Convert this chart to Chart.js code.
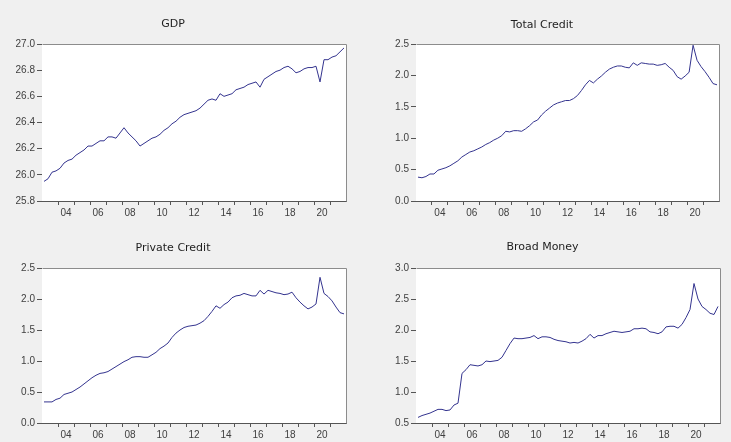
<!DOCTYPE html>
<html>
<head>
<meta charset="utf-8">
<script src="https://cdn.jsdelivr.net/npm/chart.js@4.4.1/dist/chart.umd.min.js"></script>
<style>
  html, body { margin: 0; padding: 0; }
  body { width: 731px; height: 442px; background: #f0f0f0; position: relative; overflow: hidden; }
  .panel { position: absolute; }
  .panel canvas { display: block; }
</style>
</head>
<body>
<div class="panel" id="p1" style="left:0;top:0;width:365px;height:221px"><canvas id="c1"></canvas></div>
<div class="panel" id="p2" style="left:365px;top:0;width:366px;height:221px"><canvas id="c2"></canvas></div>
<div class="panel" id="p3" style="left:0;top:221px;width:365px;height:221px"><canvas id="c3"></canvas></div>
<div class="panel" id="p4" style="left:365px;top:221px;width:366px;height:221px"><canvas id="c4"></canvas></div>
<script>
// Quarterly series, 2003Q1 - 2021Q4
const firstYear = 2003;
const lastYear = 2021;
const quarters = [];
for (let y = firstYear; y <= lastYear; y++) {
  for (let q = 1; q <= 4; q++) quarters.push(y + 'Q' + q);
}

const gdp = [
  25.95, 25.97, 26.02, 26.03, 26.05, 26.09, 26.11, 26.12,
  26.15, 26.17, 26.19, 26.22, 26.22, 26.24, 26.26, 26.26,
  26.29, 26.29, 26.28, 26.32, 26.36, 26.32, 26.29, 26.26,
  26.22, 26.24, 26.26, 26.28, 26.29, 26.31, 26.34, 26.36,
  26.39, 26.41, 26.44, 26.46, 26.47, 26.48, 26.49, 26.51,
  26.54, 26.57, 26.58, 26.57, 26.62, 26.60, 26.61, 26.62,
  26.65, 26.66, 26.67, 26.69, 26.70, 26.71, 26.67, 26.73,
  26.75, 26.77, 26.79, 26.80, 26.82, 26.83, 26.81, 26.78,
  26.79, 26.81, 26.82, 26.82, 26.83, 26.71, 26.88, 26.88,
  26.90, 26.91, 26.94, 26.97
];

const totalCredit = [
  0.38, 0.37, 0.39, 0.43, 0.43, 0.49, 0.51, 0.53,
  0.56, 0.60, 0.64, 0.70, 0.74, 0.78, 0.80, 0.83,
  0.86, 0.90, 0.93, 0.97, 1.00, 1.04, 1.11, 1.10,
  1.12, 1.12, 1.11, 1.15, 1.20, 1.26, 1.29, 1.37,
  1.43, 1.48, 1.53, 1.56, 1.58, 1.60, 1.60, 1.63,
  1.68, 1.76, 1.85, 1.92, 1.88, 1.94, 1.99, 2.05,
  2.10, 2.13, 2.15, 2.15, 2.13, 2.12, 2.20, 2.16,
  2.20, 2.19, 2.18, 2.18, 2.16, 2.17, 2.19, 2.13,
  2.08, 1.98, 1.94, 1.99, 2.05, 2.48, 2.24, 2.14,
  2.06, 1.97, 1.87, 1.85
];

const privateCredit = [
  0.34, 0.34, 0.34, 0.38, 0.40, 0.46, 0.48, 0.50,
  0.54, 0.58, 0.63, 0.68, 0.73, 0.77, 0.80, 0.81,
  0.83, 0.87, 0.91, 0.95, 0.99, 1.02, 1.06, 1.07,
  1.07, 1.06, 1.06, 1.10, 1.14, 1.20, 1.24, 1.29,
  1.38, 1.45, 1.50, 1.54, 1.56, 1.57, 1.58, 1.61,
  1.65, 1.72, 1.80, 1.89, 1.85, 1.91, 1.95, 2.02,
  2.05, 2.06, 2.09, 2.07, 2.05, 2.05, 2.14, 2.08,
  2.14, 2.12, 2.10, 2.09, 2.07, 2.08, 2.11, 2.02,
  1.95, 1.89, 1.84, 1.87, 1.92, 2.35, 2.09, 2.04,
  1.97, 1.87, 1.78, 1.76
];

const broadMoney = [
  0.59, 0.62, 0.64, 0.66, 0.69, 0.72, 0.72, 0.70,
  0.71, 0.79, 0.82, 1.30, 1.36, 1.44, 1.43, 1.42,
  1.44, 1.50, 1.49, 1.50, 1.51, 1.56, 1.67, 1.78,
  1.87, 1.86, 1.86, 1.87, 1.88, 1.91, 1.86, 1.89,
  1.89, 1.88, 1.85, 1.83, 1.82, 1.81, 1.79, 1.80,
  1.79, 1.82, 1.86, 1.93, 1.87, 1.91, 1.91, 1.94,
  1.96, 1.98, 1.97, 1.96, 1.97, 1.98, 2.02, 2.02,
  2.03, 2.02, 1.97, 1.96, 1.94, 1.97, 2.05, 2.06,
  2.06, 2.03, 2.09, 2.20, 2.33, 2.75, 2.50, 2.38,
  2.33, 2.27, 2.25, 2.38
];

// Year labels shown under the axis (every other year)
const yearLabels = ['04', '06', '08', '10', '12', '14', '16', '18', '20'];

const LINE_COLOR = '#34348f';
const AXIS_COLOR = '#555555';
const TEXT_COLOR = '#404040';
const TICK_FONT = { family: "'Liberation Sans', Arial, sans-serif", size: 10, weight: 'normal' };
const TITLE_FONT = { family: "'DejaVu Sans', sans-serif", size: 11, weight: 'normal' };

// x positions: quarter index i sits at i; each year spans 4 slots,
// so year boundaries fall at half-integers.
function yearBoundary(year) { return (year - firstYear) * 4 - 0.5; }
function yearCenter(year) { return (year - firstYear) * 4 + 1.5; }

const boundaryTicks = [];
for (let y = firstYear + 1; y <= lastYear; y++) boundaryTicks.push(yearBoundary(y));
const labelTicks = yearLabels.map(l => yearCenter(2000 + parseInt(l, 10)));

function labelFor(value) {
  const k = labelTicks.indexOf(value);
  return k >= 0 ? yearLabels[k] : '';
}

// white plot area plus a light frame on the top and right edges
const plotFrame = {
  id: 'plotFrame',
  beforeDatasetsDraw(chart) {
    const a = chart.chartArea, ctx = chart.ctx;
    ctx.save();
    ctx.fillStyle = '#ffffff';
    ctx.fillRect(a.left, a.top, a.right - a.left, a.bottom - a.top);
    ctx.restore();
  },
  afterDatasetsDraw(chart) {
    const a = chart.chartArea, ctx = chart.ctx;
    ctx.save();
    ctx.strokeStyle = '#8c8c8c';
    ctx.lineWidth = 1;
    ctx.beginPath();
    ctx.moveTo(Math.round(a.left) + 0.5, Math.round(a.top) + 0.5);
    ctx.lineTo(Math.round(a.right) + 0.5, Math.round(a.top) + 0.5);
    ctx.lineTo(Math.round(a.right) + 0.5, Math.round(a.bottom) + 0.5);
    ctx.stroke();
    ctx.restore();
  }
};

function makeChart(canvasId, title, values, yMin, yMax, yStep, box) {
  // box: canvas size and plot rectangle inside it
  const canvas = document.getElementById(canvasId);
  canvas.style.width = box.w + 'px';
  canvas.style.height = box.h + 'px';
  canvas.width = box.w;
  canvas.height = box.h;

  const titleSize = TITLE_FONT.size * 1.2;
  const titlePadTop = box.titleY - titleSize / 2;
  const titlePadBottom = box.top - titlePadTop - titleSize;

  return new Chart(canvas, {
    type: 'line',
    data: {
      labels: quarters,
      datasets: [{
        label: title,
        data: values.map((v, i) => ({ x: i, y: v })),
        borderColor: LINE_COLOR,
        borderWidth: 1,
        pointRadius: 0,
        tension: 0,
        fill: false
      }]
    },
    options: {
      responsive: false,
      animation: false,
      devicePixelRatio: 1,
      layout: { padding: { left: 0, top: 0, right: box.w - box.right, bottom: 0 } },
      plugins: {
        legend: { display: false },
        tooltip: { enabled: false },
        title: {
          display: true,
          text: title,
          color: '#1e1e1e',
          font: TITLE_FONT,
          padding: { top: titlePadTop, bottom: titlePadBottom }
        }
      },
      scales: {
        x: {
          type: 'linear',
          min: -0.5,
          max: quarters.length - 0.5,
          afterBuildTicks(scale) {
            scale.ticks = boundaryTicks.concat(labelTicks)
              .sort((a, b) => a - b)
              .map(v => ({ value: v }));
          },
          afterFit(scale) { scale.height = box.h - box.bottom; },
          ticks: {
            autoSkip: false,
            maxRotation: 0,
            padding: 2,
            color: TEXT_COLOR,
            font: TICK_FONT,
            callback: (value) => labelFor(value)
          },
          grid: {
            drawOnChartArea: false,
            drawTicks: true,
            tickLength: 4,
            tickWidth: 1,
            tickColor: (ctx) => (ctx.tick && labelTicks.indexOf(ctx.tick.value) >= 0) ? 'rgba(0,0,0,0)' : AXIS_COLOR
          },
          border: { display: true, color: AXIS_COLOR, width: 1 }
        },
        y: {
          type: 'linear',
          min: yMin,
          max: yMax,
          afterFit(scale) { scale.width = box.left; },
          ticks: {
            stepSize: yStep,
            padding: 2,
            color: TEXT_COLOR,
            font: TICK_FONT,
            callback: (value) => Number(value).toFixed(1)
          },
          grid: {
            drawOnChartArea: false,
            drawTicks: true,
            tickLength: 5,
            tickColor: AXIS_COLOR
          },
          border: { display: true, color: AXIS_COLOR, width: 1 }
        }
      }
    },
    plugins: [plotFrame]
  });
}

makeChart('c1', 'GDP', gdp, 25.8, 27.0, 0.2,
  { w: 365, h: 221, left: 42, right: 346, top: 44, bottom: 201, titleY: 24 });
makeChart('c2', 'Total Credit', totalCredit, 0.0, 2.5, 0.5,
  { w: 366, h: 221, left: 51, right: 354, top: 44, bottom: 201, titleY: 25 });
makeChart('c3', 'Private Credit', privateCredit, 0.0, 2.5, 0.5,
  { w: 365, h: 221, left: 42, right: 346, top: 47, bottom: 202, titleY: 27 });
makeChart('c4', 'Broad Money', broadMoney, 0.5, 3.0, 0.5,
  { w: 366, h: 221, left: 51, right: 355, top: 47, bottom: 202, titleY: 26 });
</script>
</body>
</html>
